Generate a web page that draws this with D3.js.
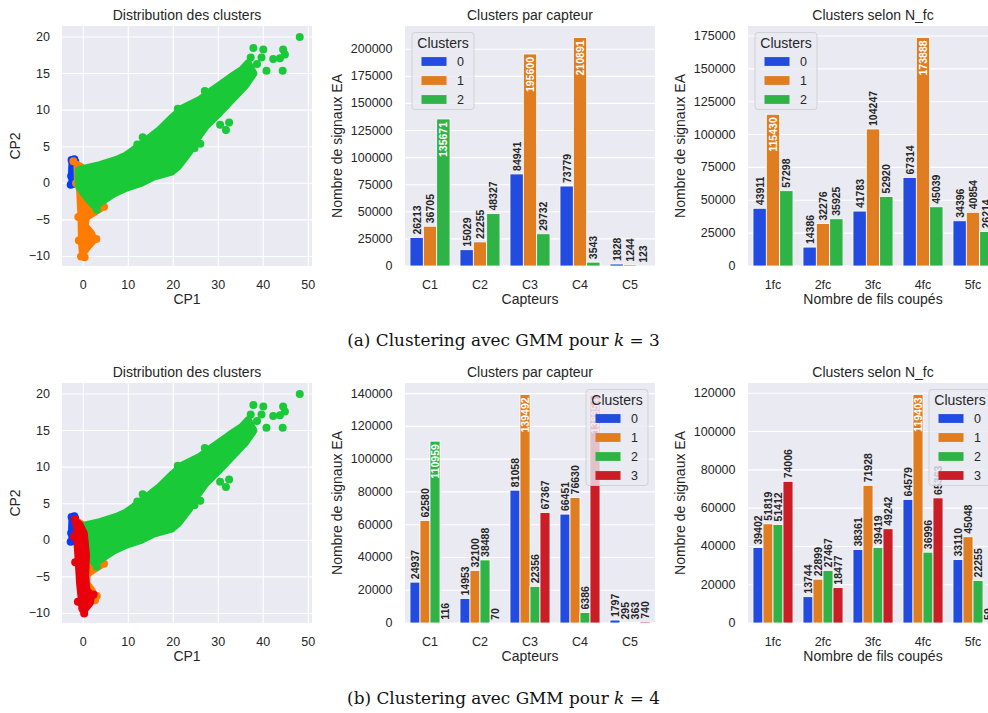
<!DOCTYPE html>
<html><head><meta charset="utf-8">
<script src="https://cdn.jsdelivr.net/npm/d3@7"></script>
<style>
body{margin:0;background:#fff}
svg{display:block}
text{font-family:"Liberation Sans",Arial,Helvetica,sans-serif}
</style>
</head><body>
<svg id="c" width="988" height="713"></svg>
<script>
// ---------------- DATA ----------------
const capteurs = ["C1","C2","C3","C4","C5"];
const nfcCats = ["1fc","2fc","3fc","4fc","5fc"];
const clustersK3 = ["0","1","2"];
const clustersK4 = ["0","1","2","3"];

// k = 3 : signals per sensor, one array per cluster
const k3CapteurC0 = [26213, 15029, 84941, 73779, 1828];
const k3CapteurC1 = [36705, 22255, 195600, 210891, 1244];
const k3CapteurC2 = [135671, 48327, 29732, 3543, 123];
// k = 3 : signals per number of cut wires
const k3NfcC0 = [43911, 14386, 41783, 67314, 34396];
const k3NfcC1 = [115430, 32276, 104247, 173888, 40854];
const k3NfcC2 = [57298, 35925, 52920, 45039, 26214];

// k = 4
const k4CapteurC0 = [24937, 14953, 81058, 66451, 1797];
const k4CapteurC1 = [62580, 32100, 139492, 76630, 295];
const k4CapteurC2 = [110959, 38488, 22356, 6386, 363];
const k4CapteurC3 = [116, 70, 67367, 138854, 740];
const k4NfcC0 = [39402, 13744, 38361, 64579, 33110];
const k4NfcC1 = [51819, 22899, 71928, 119403, 45048];
const k4NfcC2 = [51412, 27467, 39419, 36996, 22255];
const k4NfcC3 = [74006, 18477, 49242, 65363, 59];

// tick values
const ticksK3Capteur = [0, 25000, 50000, 75000, 100000, 125000, 150000, 175000, 200000];
const ticksK3Nfc = [0, 25000, 50000, 75000, 100000, 125000, 150000, 175000];
const ticksK4Capteur = [0, 20000, 40000, 60000, 80000, 100000, 120000, 140000];
const ticksK4Nfc = [0, 20000, 40000, 60000, 80000, 100000, 120000];
const scatterXTicks = [0, 10, 20, 30, 40, 50];
const scatterYTicks = [-10, -5, 0, 5, 10, 15, 20];

// scatter (CP1, CP2): dense clouds given as estimated envelopes, plus isolated points
const greenCloud = [[-1.0,1.8],[1.0,2.1],[3.7,2.5],[7.4,3.2],[9.5,3.8],[11.1,4.5],[14.1,5.9],[17.0,7.3],[20.0,9.1],[22.0,10.2],[25.9,11.4],[28.9,12.8],[32.6,14.4],[35.3,15.5],[36.6,16.4],[37.8,15.0],[36.0,13.4],[33.2,11.6],[30.3,9.7],[27.3,7.9],[24.6,5.6],[23.4,4.2],[21.0,2.3],[19.6,1.6],[15.6,0.9],[12.6,0.0],[9.6,-0.6],[6.7,-1.4],[4.0,-2.5],[2.6,-3.1],[1.2,-2.2],[-0.3,-1.0],[-1.0,-0.3]];
const greenPoints = [[37.8,18.5],[40.0,18.3],[39.6,17.2],[40.7,15.4],[42.2,17.0],[44.4,18.3],[44.8,17.6],[43.7,17.1],[44.3,15.4],[48.1,20.0],[37.2,17.2],[38.6,16.3],[30.4,8.0],[32.4,8.3],[31.7,7.3],[26.0,5.4],[24.7,4.8],[13.2,6.3],[12.0,5.3],[21.0,10.2],[27.0,12.6],[33.5,13.7],[3.0,-3.6]];
const blueCloud = [[-2.4,3.1],[-1.8,3.0],[-2.2,1.5],[-2.4,-0.1],[-2.5,1.5]];
const bluePoints = [[-2.6,3.2],[-2.0,3.3],[-2.7,1.0],[-2.8,-0.2]];
const orangeCloudK3 = [[-1.3,2.5],[-0.5,2.2],[0.8,1.3],[2.2,-1.2],[3.9,-2.6],[3.8,-3.4],[2.2,-4.0],[0.6,-4.6],[0.3,-5.8],[1.8,-6.9],[2.2,-7.8],[1.0,-8.6],[-0.1,-9.5],[-0.3,-8.0],[-0.4,-4.6],[-0.7,-1.0],[-1.2,0.5]];
const orangePointsK3 = [[-2.2,3.0],[-1.6,0.0],[-1.1,-4.6],[-1.0,-7.8],[0.3,-10.1],[-0.5,-10.0],[2.9,-7.6],[4.6,-3.2]];
const orangeCloudK4 = [[-1.3,2.5],[-0.5,2.2],[0.8,1.3],[2.2,-1.2],[3.9,-2.6],[3.8,-3.4],[2.2,-4.0],[0.8,-4.6],[0.6,-5.8],[1.9,-6.9],[2.3,-7.8],[1.0,-8.6],[-0.1,-9.5],[-0.3,-8.0],[-0.4,-4.6],[-0.7,-1.0],[-1.2,0.5]];
const orangePointsK4 = [[4.6,-3.2],[3.0,-7.6],[2.6,-8.2]];
const redCloudK4 = [[-1.6,2.5],[-0.9,2.2],[0.1,1.0],[0.6,-2.0],[0.4,-5.0],[0.7,-6.8],[1.7,-7.5],[1.5,-8.5],[0.2,-9.5],[-0.2,-9.4],[-0.3,-8.2],[-0.7,-6.0],[-1.0,-3.0],[-1.3,-0.2],[-1.4,1.5]];
const redPointsK4 = [[-1.9,2.9],[-2.1,0.5],[-1.8,-3.0],[-1.2,-8.4],[0.2,-10.0],[2.3,-7.4]];

const captionA = ["(a) Clustering avec GMM pour ", "k", " = 3"];
const captionB = ["(b) Clustering avec GMM pour ", "k", " = 4"];

// ---------------- STYLE ----------------
const BG = "#EAEAF2", TXT = "#262626";
const SC = {blue:"#023eff", orange:"#ff7c00", green:"#1ac938", red:"#e8000b"};
const BAR = ["#224bdf","#df7d20","#30b346","#cb1d25"];
const rows = [{top:26, bottom:266}, {top:383, bottom:623}];
const svg = d3.select("#c");
let clipN = 0;

function axisTexts(g, cx, row, title, xlabel, ylabel, ylabelX) {
  g.append("text").attr("x", cx).attr("y", row.top - 11.5).attr("text-anchor","middle")
    .attr("dominant-baseline","central").attr("font-size",14).attr("fill",TXT).text(title);
  g.append("text").attr("x", cx).attr("y", row.bottom + 33).attr("text-anchor","middle")
    .attr("dominant-baseline","central").attr("font-size",14).attr("fill",TXT).text(xlabel);
  const my = (row.top + row.bottom) / 2;
  g.append("text").attr("transform", `translate(${ylabelX},${my}) rotate(-90)`).attr("text-anchor","middle")
    .attr("dominant-baseline","central").attr("font-size",14).attr("fill",TXT).text(ylabel);
}

function scatterPanel(row, layers) {
  const L = 62, R = 312;
  const x = d3.scaleLinear().domain([-4.73, 50.82]).range([L, R]);
  const y = d3.scaleLinear().domain([-11.3, 21.5]).range([row.bottom, row.top]);
  const g = svg.append("g");
  const id = "clip" + (clipN++);
  g.append("clipPath").attr("id", id).append("rect")
    .attr("x", L).attr("y", row.top).attr("width", R - L).attr("height", row.bottom - row.top);
  g.append("rect").attr("x", L).attr("y", row.top).attr("width", R - L).attr("height", row.bottom - row.top).attr("fill", BG);
  scatterXTicks.forEach(t => g.append("line").attr("x1", x(t)).attr("x2", x(t)).attr("y1", row.top).attr("y2", row.bottom)
    .attr("stroke","#fff").attr("stroke-width",1.1));
  scatterYTicks.forEach(t => g.append("line").attr("x1", L).attr("x2", R).attr("y1", y(t)).attr("y2", y(t))
    .attr("stroke","#fff").attr("stroke-width",1.1));
  const pg = g.append("g").attr("clip-path", `url(#${id})`);
  const line = d3.line().x(d => x(d[0])).y(d => y(d[1])).curve(d3.curveLinearClosed);
  layers.forEach(ly => {
    pg.append("path").attr("d", line(ly.cloud)).attr("fill", ly.color).attr("stroke", ly.color)
      .attr("stroke-width", 8).attr("stroke-linejoin","round");
    pg.selectAll(null).data(ly.points).join("circle")
      .attr("cx", d => x(d[0])).attr("cy", d => y(d[1])).attr("r", 4).attr("fill", ly.color);
  });
  scatterXTicks.forEach(t => g.append("text").attr("x", x(t)).attr("y", row.bottom + 19).attr("text-anchor","middle")
    .attr("dominant-baseline","central").attr("font-size",12.5).attr("fill",TXT).text(String(t).replace("-","\u2212")));
  scatterYTicks.forEach(t => g.append("text").attr("x", L - 12).attr("y", y(t)).attr("text-anchor","end")
    .attr("dominant-baseline","central").attr("font-size",12.5).attr("fill",TXT).text(String(t).replace("-","\u2212")));
  axisTexts(g, (L + R) / 2, row, "Distribution des clusters", "CP1", "CP2", 15);
}

function barPanel(o) {
  const row = o.row, L = o.left, R = o.right;
  const yMax = d3.max(o.series.flat()) * 1.05;
  const x = d3.scaleBand().domain(o.cats).range([L, R]).paddingInner(0.2).paddingOuter(0.1);
  const xi = d3.scaleBand().domain(o.names).range([0, x.bandwidth()]);
  const y = d3.scaleLinear().domain([0, yMax]).range([row.bottom, row.top]);
  const g = svg.append("g");
  g.append("rect").attr("x", L).attr("y", row.top).attr("width", R - L).attr("height", row.bottom - row.top).attr("fill", BG);
  o.ticks.forEach(t => g.append("line").attr("x1", L).attr("x2", R).attr("y1", y(t)).attr("y2", y(t))
    .attr("stroke","#fff").attr("stroke-width",1.1));
  o.series.forEach((vals, s) => {
    g.selectAll(null).data(vals).join("rect")
      .attr("x", (d, i) => x(o.cats[i]) + xi(o.names[s]))
      .attr("y", d => y(d)).attr("width", xi.bandwidth()).attr("height", d => y(0) - y(d))
      .attr("fill", BAR[s]).attr("stroke", "#fff").attr("stroke-width", 0.8);
  });
  o.series.forEach((vals, s) => {
    vals.forEach((v, i) => {
      const cx = x(o.cats[i]) + xi(o.names[s]) + xi.bandwidth() / 2;
      const inside = v > 108000;
      const ty = inside ? y(v) + 3 : y(v) - 3;
      g.append("text").attr("transform", `translate(${cx},${ty}) rotate(-90)`)
        .attr("text-anchor", inside ? "end" : "start").attr("dominant-baseline","central")
        .attr("font-size", 10.5).attr("font-weight","bold").attr("fill", inside ? "#fff" : TXT).text(v);
    });
  });
  o.cats.forEach(c => g.append("text").attr("x", x(c) + x.bandwidth() / 2).attr("y", row.bottom + 19)
    .attr("text-anchor","middle").attr("dominant-baseline","central").attr("font-size",12.5).attr("fill",TXT).text(c));
  o.ticks.forEach(t => g.append("text").attr("x", L - 12.5).attr("y", y(t)).attr("text-anchor","end")
    .attr("dominant-baseline","central").attr("font-size",12.5).attr("fill",TXT).text(t));
  axisTexts(g, (L + R) / 2, row, o.title, o.xlabel, "Nombre de signaux EA", o.ylabelX);
  // legend
  const lw = 62, lh = 29 + (o.names.length - 1) * 19 + 10;
  const lx = o.legendRight ? R - 7 - lw : L + 7;
  const ly = row.top + 6.5;
  const lg = g.append("g");
  lg.append("rect").attr("x", lx).attr("y", ly).attr("width", lw).attr("height", lh).attr("rx", 3)
    .attr("fill", "rgba(234,234,242,0.8)").attr("stroke", "rgba(204,204,204,0.8)").attr("stroke-width", 1);
  lg.append("text").attr("x", lx + lw / 2).attr("y", ly + 10.5).attr("text-anchor","middle")
    .attr("dominant-baseline","central").attr("font-size",14).attr("fill",TXT).text("Clusters");
  o.names.forEach((n, k) => {
    const cy = ly + 29 + k * 19;
    lg.append("rect").attr("x", lx + 9.5).attr("y", cy - 4.4).attr("width", 25).attr("height", 8.8).attr("fill", BAR[k]);
    lg.append("text").attr("x", lx + 45).attr("y", cy).attr("dominant-baseline","central")
      .attr("font-size",12.5).attr("fill",TXT).text(n);
  });
}

// ---------------- DRAW ----------------
scatterPanel(rows[0], [
  {cloud: blueCloud, points: bluePoints, color: SC.blue},
  {cloud: orangeCloudK3, points: orangePointsK3, color: SC.orange},
  {cloud: greenCloud, points: greenPoints, color: SC.green}
]);
scatterPanel(rows[1], [
  {cloud: blueCloud, points: bluePoints, color: SC.blue},
  {cloud: orangeCloudK4, points: orangePointsK4, color: SC.orange},
  {cloud: greenCloud, points: greenPoints, color: SC.green},
  {cloud: redCloudK4, points: redPointsK4, color: SC.red}
]);
barPanel({row: rows[0], left: 405, right: 655, cats: capteurs, names: clustersK3,
  series: [k3CapteurC0, k3CapteurC1, k3CapteurC2], ticks: ticksK3Capteur,
  title: "Clusters par capteur", xlabel: "Capteurs", ylabelX: 337, legendRight: false});
barPanel({row: rows[0], left: 748, right: 998, cats: nfcCats, names: clustersK3,
  series: [k3NfcC0, k3NfcC1, k3NfcC2], ticks: ticksK3Nfc,
  title: "Clusters selon N_fc", xlabel: "Nombre de fils coupés", ylabelX: 680, legendRight: false});
barPanel({row: rows[1], left: 405, right: 655, cats: capteurs, names: clustersK4,
  series: [k4CapteurC0, k4CapteurC1, k4CapteurC2, k4CapteurC3], ticks: ticksK4Capteur,
  title: "Clusters par capteur", xlabel: "Capteurs", ylabelX: 337, legendRight: true});
barPanel({row: rows[1], left: 748, right: 998, cats: nfcCats, names: clustersK4,
  series: [k4NfcC0, k4NfcC1, k4NfcC2, k4NfcC3], ticks: ticksK4Nfc,
  title: "Clusters selon N_fc", xlabel: "Nombre de fils coupés", ylabelX: 680, legendRight: true});

function caption(parts, yb) {
  const t = svg.append("text").attr("x", 503.5).attr("y", yb).attr("text-anchor","middle")
    .attr("font-size", 17).attr("fill", "#111").style("font-family", '"DejaVu Serif", "Liberation Serif", serif');
  t.append("tspan").text(parts[0]);
  t.append("tspan").attr("font-style","italic").text(parts[1]);
  t.append("tspan").text(parts[2]);
  const w = t.node().getComputedTextLength();
  t.attr("font-size", 17 * 313 / w);
}
caption(captionA, 346);
caption(captionB, 704);
</script>
</body></html>
